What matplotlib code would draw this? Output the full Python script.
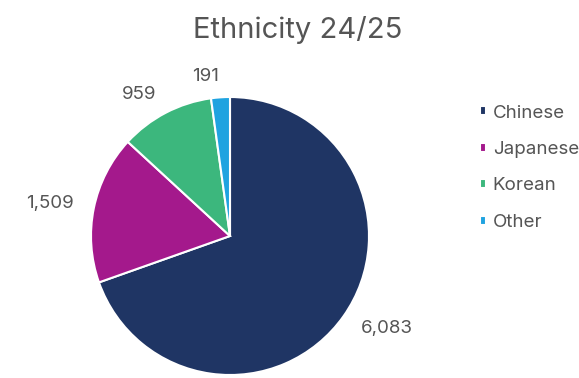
import matplotlib.pyplot as plt

plt.rcParams['font.family'] = ['Inter', 'DejaVu Sans']

names = ['Chinese', 'Japanese', 'Korean', 'Other']
counts = [6083, 1509, 959, 191]
colors = ['#1f3564', '#a4198c', '#3cb77d', '#1fa3e0']
grey = '#555555'

fig = plt.figure(figsize=(5.79, 3.78), dpi=100)
W, H = 579, 378
cx, cy, r = 230, 236, 139
ax = fig.add_axes([(cx - r) / W, (H - cy - r) / H, 2 * r / W, 2 * r / H])

wedges, texts = ax.pie(counts, colors=colors, startangle=90, counterclock=False,
                       labels=[f'{c:,}' for c in counts], labeldistance=1.15,
                       wedgeprops=dict(edgecolor='white', linewidth=1.5),
                       textprops=dict(color=grey, fontsize=13.5))
ax.set_xlim(-1, 1)
ax.set_ylim(-1, 1)
ax.set_aspect('equal')

fig.text(0.515, 0.92, 'Ethnicity 24/25', ha='center', va='center',
         fontsize=21, color=grey)

leg = fig.legend(wedges, names, loc='upper left', bbox_to_anchor=(472 / W, 1 - 97 / H),
                 frameon=False, fontsize=13.5, handlelength=0.35, handleheight=0.35,
                 handletextpad=0.35, labelspacing=1.04, borderaxespad=0)
for t in leg.get_texts():
    t.set_color(grey)

fig.savefig('out.png', dpi=100)
